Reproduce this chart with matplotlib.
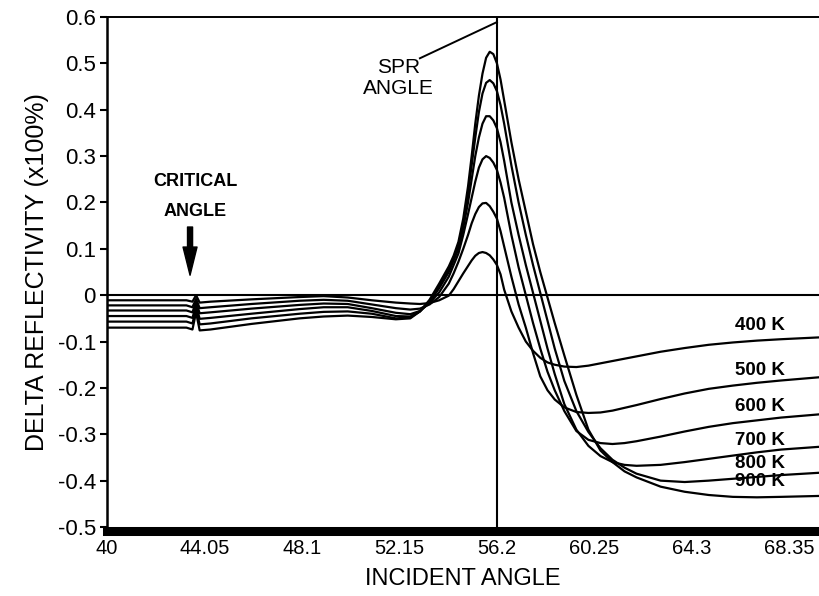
import matplotlib
matplotlib.use("Agg")
import matplotlib.pyplot as plt

plt.rcParams['font.family'] = ['Liberation Sans', 'DejaVu Sans']

# incident angle samples (deg), shared by every temperature curve
angle = [40, 43.3, 43.55, 43.7, 43.85, 44.3, 46, 48, 49, 50, 51, 52, 52.6, 53.0,
         53.4, 53.8, 54.2, 54.4, 54.6, 54.8, 55.0, 55.15, 55.3, 55.45, 55.6,
         55.75, 55.9, 56.05, 56.2, 56.35, 56.5, 56.8, 57.1, 57.4, 57.7, 58.0,
         58.3, 58.6, 59.0, 59.5, 60.0, 60.5, 61.0, 61.5, 62.0, 63, 64, 65, 66,
         67, 68, 69.6]

dr_400 = [-0.011, -0.011, -0.014, 0.000, -0.016, -0.014, -0.009, -0.004, -0.002,
          -0.005, -0.011, -0.016, -0.018, -0.019, -0.017, -0.011, -0.001,
          0.013, 0.03, 0.047, 0.063, 0.075, 0.085, 0.091, 0.093, 0.091, 0.086,
          0.077, 0.065, 0.045, 0.012,
          -0.035, -0.07, -0.10, -0.12, -0.135, -0.145, -0.150, -0.154, -0.155,
          -0.152, -0.147, -0.142, -0.137, -0.132, -0.122, -0.114, -0.107, -0.102,
          -0.098, -0.095, -0.091]
dr_500 = [-0.022, -0.022, -0.026, -0.008, -0.028, -0.026, -0.019, -0.012, -0.010,
          -0.012, -0.020, -0.028, -0.031, -0.029, -0.020, -0.004, 0.025,
          0.047, 0.072, 0.10, 0.13, 0.155, 0.175, 0.19, 0.198, 0.199, 0.192,
          0.18, 0.165, 0.138, 0.105,
          0.04, -0.02, -0.07, -0.125, -0.175, -0.205, -0.225, -0.242, -0.252,
          -0.254, -0.253, -0.249, -0.243, -0.237, -0.224, -0.212, -0.202, -0.195,
          -0.189, -0.184, -0.177]
dr_600 = [-0.033, -0.033, -0.037, -0.015, -0.039, -0.037, -0.029, -0.021, -0.018,
          -0.019, -0.028, -0.038, -0.041, -0.034, -0.017, 0.006, 0.040,
          0.065, 0.09, 0.13, 0.175, 0.21, 0.245, 0.275, 0.293, 0.30, 0.296,
          0.286, 0.27, 0.243, 0.21,
          0.13, 0.06, 0.0, -0.06, -0.115, -0.165, -0.205, -0.25, -0.293,
          -0.312, -0.319, -0.321, -0.319, -0.315, -0.305, -0.294, -0.284, -0.276,
          -0.27, -0.264, -0.257]
dr_700 = [-0.045, -0.045, -0.049, -0.022, -0.051, -0.049, -0.040, -0.030, -0.026,
          -0.026, -0.034, -0.045, -0.046, -0.035, -0.015, 0.015, 0.050,
          0.075, 0.10, 0.145, 0.20, 0.25, 0.30, 0.34, 0.37, 0.386, 0.386,
          0.377, 0.36, 0.33, 0.29,
          0.20, 0.13, 0.065, 0.005, -0.055, -0.115, -0.17, -0.235, -0.29,
          -0.325, -0.347, -0.36, -0.366, -0.368, -0.366, -0.36, -0.353, -0.346,
          -0.339, -0.333, -0.327]
dr_800 = [-0.057, -0.057, -0.061, -0.030, -0.063, -0.061, -0.050, -0.040, -0.036,
          -0.035, -0.040, -0.050, -0.048, -0.035, -0.012, 0.020, 0.055,
          0.08, 0.108, 0.155, 0.22, 0.28, 0.34, 0.395, 0.435, 0.458, 0.464,
          0.457, 0.44, 0.41, 0.37,
          0.28, 0.20, 0.13, 0.065, 0.005, -0.055, -0.115, -0.185, -0.25,
          -0.295, -0.33, -0.355, -0.372, -0.385, -0.400, -0.403, -0.400, -0.396,
          -0.392, -0.388, -0.383]
dr_900 = [-0.070, -0.070, -0.074, -0.037, -0.076, -0.074, -0.062, -0.050, -0.046,
          -0.044, -0.047, -0.052, -0.050, -0.035, -0.010, 0.025, 0.062,
          0.085, 0.115, 0.165, 0.235, 0.30, 0.37, 0.43, 0.478, 0.512, 0.525,
          0.52, 0.50, 0.465, 0.42,
          0.33, 0.25, 0.18, 0.11, 0.05, -0.005, -0.06, -0.13, -0.215,
          -0.29, -0.335, -0.36, -0.38, -0.393, -0.413, -0.424, -0.431, -0.435,
          -0.436, -0.435, -0.433]

curves = [dr_400, dr_500, dr_600, dr_700, dr_800, dr_900]
temp_labels = ['400 K', '500 K', '600 K', '700 K', '800 K', '900 K']
temp_label_y = [-0.065, -0.162, -0.241, -0.313, -0.362, -0.401]

xticks = [40, 44.05, 48.1, 52.15, 56.2, 60.25, 64.3, 68.35]
xtick_labels = ['40', '44.05', '48.1', '52.15', '56.2', '60.25', '64.3', '68.35']
yticks = [-0.5, -0.4, -0.3, -0.2, -0.1, 0, 0.1, 0.2, 0.3, 0.4, 0.5, 0.6]
ytick_labels = ['-0.5', '-0.4', '-0.3', '-0.2', '-0.1', '0',
                '0.1', '0.2', '0.3', '0.4', '0.5', '0.6']
spr_angle = 56.2
critical_angle = 43.45

fig = plt.figure(figsize=(8.19, 5.96), dpi=100)
ax = fig.add_axes([107/819, 1-527/596, 1-107/819, 510/596])

for y in curves:
    ax.plot(angle, y, color='black', lw=1.6, solid_joinstyle='round')

ax.axhline(0, color='black', lw=1.5)
ax.axvline(spr_angle, color='black', lw=1.5)

ax.set_xlim(40, 69.58)
ax.set_ylim(-0.5, 0.6)

ax.spines['right'].set_visible(False)
ax.spines['top'].set_linewidth(1.4)
ax.spines['left'].set_linewidth(1.8)
ax.spines['bottom'].set_linewidth(6.5)
ax.spines['bottom'].set_position(('outward', 3))

ax.set_xticks(xticks)
ax.set_xticklabels(xtick_labels, fontsize=14.5)
ax.set_yticks(yticks)
ax.set_yticklabels(ytick_labels, fontsize=16)
ax.tick_params(axis='x', length=0, pad=6)
ax.tick_params(axis='y', direction='out', length=5, width=1.5, pad=3)

ax.set_xlabel('INCIDENT ANGLE', fontsize=17, labelpad=7)
ax.set_ylabel('DELTA REFLECTIVITY (x100%)', fontsize=18, labelpad=6)

# temperature tags on the right
for lab, ty in zip(temp_labels, temp_label_y):
    ax.text(67.13, ty, lab, ha='center', va='center', fontsize=13.5, fontweight='bold')

# SPR angle annotation with leader line to the top of the vertical marker
ax.text(52.1, 0.468, 'SPR\nANGLE', ha='center', va='center', fontsize=15, linespacing=1.1)
ax.plot([53.0, spr_angle], [0.511, 0.589], color='black', lw=1.4)

# critical angle marker
ax.text(43.66, 0.212, 'CRITICAL\n\nANGLE', ha='center', va='center', fontsize=13,
        fontweight='bold', linespacing=0.85)
ax.annotate('', xy=(critical_angle, 0.043), xytext=(critical_angle, 0.147),
            arrowprops=dict(arrowstyle='simple,head_length=1.45,head_width=0.72,tail_width=0.26',
                            fc='black', ec='black', shrinkA=0, shrinkB=0,
                            mutation_scale=14),
            annotation_clip=False)

fig.savefig('out.png', dpi=100)
